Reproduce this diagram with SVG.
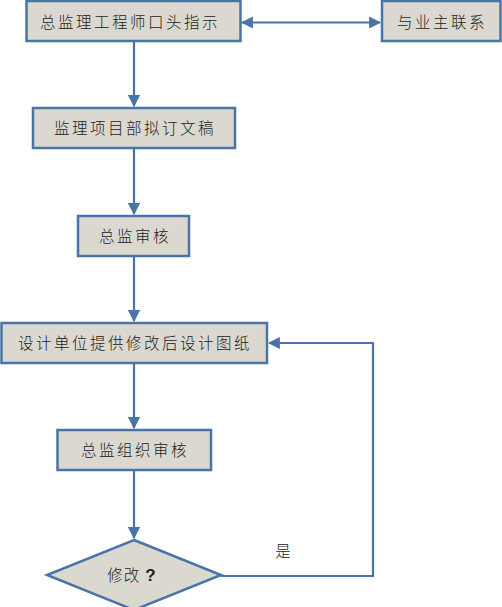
<svg xmlns="http://www.w3.org/2000/svg" width="502" height="607" viewBox="0 0 502 607">
<defs>
<style>
.box{fill:#dbd8d0;stroke:#4a74a8;stroke-width:2.5}
.t{font-family:"Noto Sans CJK SC","Liberation Sans",sans-serif;font-size:15.5px;font-weight:300;letter-spacing:2.5px;fill:#222222;text-anchor:middle}
.c{fill:none;stroke:#4a74a8;stroke-width:2.2}
</style>
<marker id="ah" viewBox="0 0 10 10" refX="9" refY="5" markerWidth="5.5" markerHeight="5.5" orient="auto-start-reverse">
<path d="M0,0 L10,5 L0,10 z" fill="#4a74a8"/>
</marker>
</defs>
<rect width="502" height="607" fill="#ffffff"/>
<g id="connectors">
<line class="c" x1="134" y1="42" x2="134" y2="106" marker-end="url(#ah)"/>
<line class="c" x1="242" y1="22.5" x2="380" y2="22.5" marker-start="url(#ah)" marker-end="url(#ah)"/>
<line class="c" x1="134" y1="149" x2="134" y2="214" marker-end="url(#ah)"/>
<line class="c" x1="134" y1="257" x2="134" y2="321" marker-end="url(#ah)"/>
<line class="c" x1="134" y1="364" x2="134" y2="428" marker-end="url(#ah)"/>
<line class="c" x1="134" y1="471" x2="134" y2="538" marker-end="url(#ah)"/>
<polyline class="c" points="221,576 373,576 373,343 269,343" marker-end="url(#ah)"/>
<text class="t" x="283" y="557" style="letter-spacing:0">是</text>
</g>
<g id="n1"><rect class="box" x="26.5" y="1" width="214" height="40"/><text class="t" x="130" y="28">总监理工程师口头指示</text></g>
<g id="n2"><rect class="box" x="382" y="1" width="118.5" height="40"/><text class="t" x="442" y="28">与业主联系</text></g>
<g id="n3"><rect class="box" x="33" y="108" width="202" height="40"/><text class="t" x="135" y="134">监理项目部拟订文稿</text></g>
<g id="n4"><rect class="box" x="78" y="216" width="111" height="40"/><text class="t" x="135" y="242">总监审核</text></g>
<g id="n5"><rect class="box" x="1.5" y="323" width="265.5" height="40"/><text class="t" x="135" y="349">设计单位提供修改后设计图纸</text></g>
<g id="n6"><rect class="box" x="57.5" y="430" width="153.5" height="40"/><text class="t" x="135" y="456">总监组织审核</text></g>
<g id="n7"><polygon class="box" points="134,540 221,575 134,610 47,575"/><text class="t" x="132" y="581" style="letter-spacing:1px">修改<tspan font-family="Liberation Sans" font-weight="bold" font-size="17" dx="5">?</tspan></text></g>
</svg>
